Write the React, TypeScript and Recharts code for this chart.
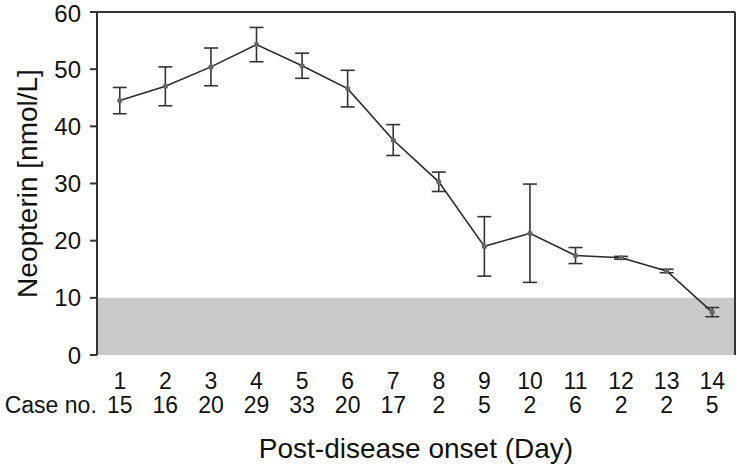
import { LineChart, Line, XAxis, YAxis, ErrorBar, ReferenceArea, ReferenceLine } from "recharts"

const days = [1, 2, 3, 4, 5, 6, 7, 8, 9, 10, 11, 12, 13, 14]
const caseCounts = [15, 16, 20, 29, 33, 20, 17, 2, 5, 2, 6, 2, 2, 5]
const neopterin = [44.5, 47.0, 50.4, 54.3, 50.6, 46.6, 37.6, 30.3, 19.0, 21.3, 17.4, 17.0, 14.7, 7.5]
const neopterinSd = [2.3, 3.4, 3.3, 3.0, 2.2, 3.2, 2.7, 1.7, 5.2, 8.6, 1.4, 0.25, 0.3, 0.8]
const yTicks = [0, 10, 20, 30, 40, 50, 60]
const normalUpper = 10

// boundaries between days, where the tick marks sit
const edgeTicks = [...days.map(d => d - 0.5), days[days.length - 1] + 0.5]

const data = days.map((d, i) => ({ day: d, value: neopterin[i], sd: neopterinSd[i] }))

const FONT = "'Liberation Sans', Arial, sans-serif"
const AXIS = "#333"
const TEXT = "#111"

function DayTick(props: any) {
  const { x, y, payload } = props
  const i = days.indexOf(payload.value)
  return (
    <g fontFamily={FONT} fontSize={23} fill={TEXT}>
      <text x={x} y={y + 34} textAnchor="middle">{payload.value}</text>
      <text x={x} y={y + 58} textAnchor="middle">{caseCounts[i]}</text>
      {i === 0 && <text x={x - 23} y={y + 58} textAnchor="end">Case no.</text>}
    </g>
  )
}

function XTitle(props: any) {
  const { viewBox } = props
  return (
    <text x={viewBox.x + viewBox.width / 2} y={viewBox.y + 103} textAnchor="middle"
      fontFamily={FONT} fontSize={28} fill={TEXT}>
      Post-disease onset (Day)
    </text>
  )
}

function YTitle(props: any) {
  const { viewBox } = props
  const cx = 27
  const cy = viewBox.y + viewBox.height / 2
  return (
    <text x={cx} y={cy} transform={`rotate(-90 ${cx} ${cy})`} textAnchor="middle" dominantBaseline="central"
      fontFamily={FONT} fontSize={28} fill={TEXT}>
      Neopterin [nmol/L]
    </text>
  )
}

export default function App() {
  return (
    <div style={{ position: "absolute", left: 0, top: 0, background: "#fff" }}>
      <LineChart width={736} height={471} data={data} margin={{ top: 12, right: 1, left: 0, bottom: 0 }}>
        <XAxis xAxisId="edges" type="number" dataKey="day" domain={[0.5, 14.5]} ticks={edgeTicks}
          tick={false} tickSize={7} height={0} stroke={AXIS} strokeWidth={2} />
        <XAxis xAxisId="days" type="number" dataKey="day" domain={[0.5, 14.5]} ticks={days} interval={0}
          axisLine={false} tickLine={false} tickSize={0} tickMargin={0} height={116}
          tick={<DayTick />} label={<XTitle />} />
        <YAxis domain={[0, 60]} ticks={yTicks} width={97} tickSize={7} tickMargin={9}
          stroke={AXIS} strokeWidth={2}
          tick={{ fontSize: 24, fill: TEXT, fontFamily: FONT }} label={<YTitle />} />
        <ReferenceArea xAxisId="days" y1={0} y2={normalUpper} fill="#c8c9cb" fillOpacity={1} stroke="none" />
        <ReferenceLine xAxisId="days" y={60} stroke={AXIS} strokeWidth={2} />
        <ReferenceLine xAxisId="days" x={14.5} stroke={AXIS} strokeWidth={2} />
        <Line xAxisId="days" type="linear" dataKey="value" stroke="#2a2a2a" strokeWidth={1.6}
          dot={{ r: 2.6, fill: "#666", stroke: "none" }} isAnimationActive={false}>
          <ErrorBar dataKey="sd" direction="y" width={7} stroke="#333" strokeWidth={1.6} />
        </Line>
      </LineChart>
    </div>
  )
}
